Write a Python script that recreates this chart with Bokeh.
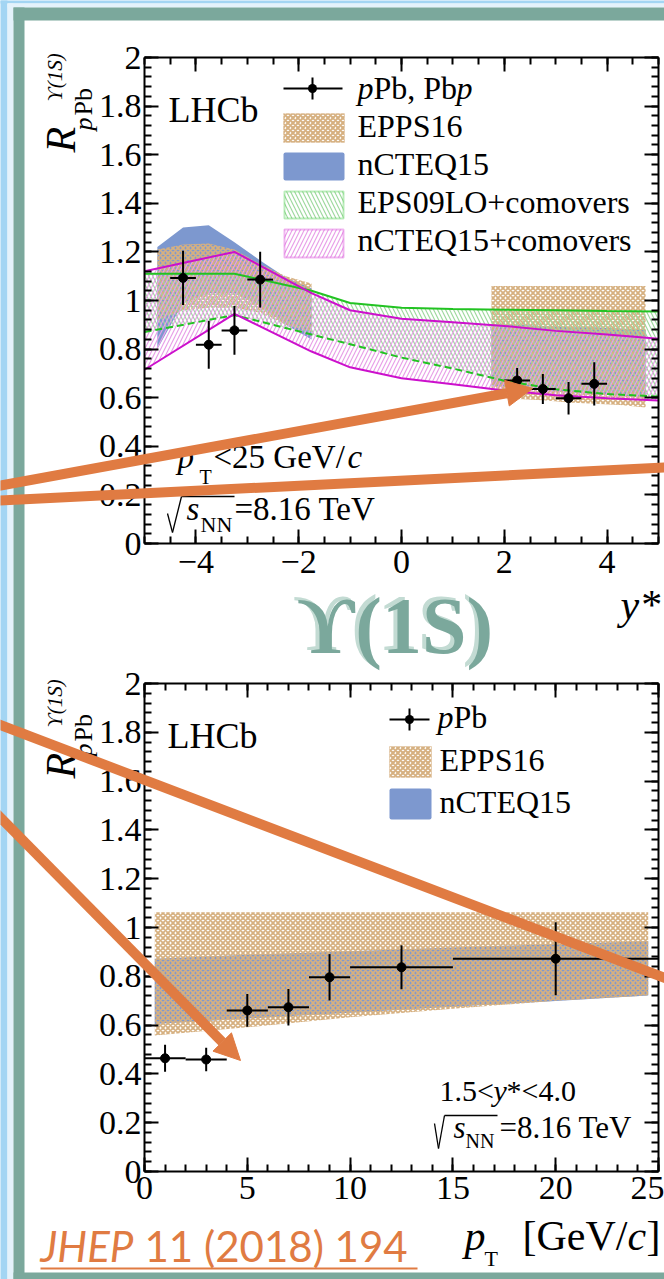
import numpy as np
from bokeh.plotting import figure
from bokeh.layouts import column
from bokeh.models import (Label, BoxAnnotation, Arrow, NormalHead, FixedTicker,
                          CustomJSTickFormatter, LinearAxis, Range1d, GridBox)
from bokeh.embed import file_html
from bokeh.resources import INLINE

# ---------------- rapidity dependence (upper panel) ----------------
ystar = [-4.25, -3.75, -3.25, -2.75, 2.25, 2.75, 3.25, 3.75]
ystar_halfbin = [0.25, 0.25, 0.25, 0.25, 0.25, 0.25, 0.25, 0.25]
rppb_y = [1.093, 0.818, 0.877, 1.086, 0.671, 0.636, 0.598, 0.657]
rppb_y_err = [0.112, 0.099, 0.100, 0.115, 0.051, 0.062, 0.067, 0.089]

bwd_y = [-4.75, -4.25, -3.75, -3.25, -2.75, -2.25, -1.75]
fwd_y = [1.75, 2.25, 2.75, 3.25, 3.75, 4.25, 4.75]
epps_bwd_hi = [1.21, 1.23, 1.235, 1.21, 1.15, 1.10, 1.07]
epps_bwd_lo = [0.92, 0.96, 0.97, 0.97, 0.95, 0.90, 0.87]
ncteq_bwd_hi = [1.22, 1.30, 1.31, 1.24, 1.165, 1.095, 1.05]
ncteq_bwd_lo = [0.80, 0.99, 1.03, 1.03, 0.98, 0.90, 0.84]
epps_fwd_hi = [1.06, 1.06, 1.06, 1.06, 1.06, 1.06, 1.06]
epps_fwd_lo = [0.60, 0.595, 0.59, 0.58, 0.575, 0.57, 0.56]
ncteq_fwd_hi = [0.90, 0.90, 0.895, 0.89, 0.89, 0.885, 0.88]
ncteq_fwd_lo = [0.65, 0.64, 0.63, 0.62, 0.615, 0.61, 0.60]

como_y = [-5.0, -3.25, -1.75, -1.0, 0.0, 1.0, 2.0, 3.0, 4.0, 5.0]
eps09_hi = [1.11, 1.11, 1.04, 0.99, 0.97, 0.965, 0.962, 0.96, 0.957, 0.955]
eps09_lo = [0.87, 0.94, 0.86, 0.82, 0.765, 0.72, 0.67, 0.635, 0.615, 0.605]
ncteq_como_hi = [1.12, 1.20, 1.03, 0.96, 0.925, 0.91, 0.895, 0.875, 0.86, 0.843]
ncteq_como_lo = [0.715, 0.945, 0.79, 0.725, 0.68, 0.655, 0.63, 0.61, 0.598, 0.588]

y_ticks = [0, 0.2, 0.4, 0.6, 0.8, 1.0, 1.2, 1.4, 1.6, 1.8, 2.0]
ystar_ticks = [-4, -2, 0, 2, 4]

# ---------------- pT dependence (lower panel) ----------------
pt = [1, 3, 5, 7, 9, 12.5, 20]
pt_halfbin = [1, 1, 1, 1, 1, 2.5, 5]
rppb_pt = [0.464, 0.459, 0.660, 0.673, 0.796, 0.837, 0.872]
rppb_pt_err = [0.055, 0.048, 0.067, 0.075, 0.095, 0.090, 0.150]

band_pt = [0.5, 5, 10, 15, 20, 24.5]
epps_pt_hi = [1.063, 1.063, 1.063, 1.063, 1.063, 1.063]
epps_pt_lo = [0.557, 0.591, 0.632, 0.667, 0.700, 0.721]
ncteq_pt_hi = [0.872, 0.888, 0.903, 0.918, 0.932, 0.944]
ncteq_pt_lo = [0.605, 0.627, 0.651, 0.675, 0.699, 0.721]

pt_ticks = [0, 5, 10, 15, 20, 25]

# ---------------- style ----------------
SERIF = "Liberation Serif"
SANS = "Lato"
# half of (ascent - descent), in em: distance from the text box centre to the baseline
CENTRE_TO_BASELINE = {SERIF: (0.891 - 0.216) / 2, SANS: (0.987 - 0.213) / 2}
ORANGE = "#e07b42"
TEAL = "#7ba89c"
TEAL_LIGHT = "#c3dbd3"
SKY = "#a3d5f3"
PALE = "#e4f2fb"
TAN = "#d6b080"
BLUE = "#7d98cf"
GREEN = "#22c322"
MAGENTA = "#cc10cc"
GREEN_HATCH = "#9fd99f"
MAGENTA_HATCH = "#e8a0e8"

W = 664
H_TOP = 665
H_BOT = 614
H_PAGE = H_TOP + H_BOT

num_fmt = CustomJSTickFormatter(code="""
const s = Number(tick.toFixed(2)).toString();
return s.replace('-', '\u2212');
""")


def blank_fmt():
    return CustomJSTickFormatter(code="return '';")


def style_axis(ax, ticks, minor, labels, standoff):
    ax.ticker = FixedTicker(ticks=ticks, minor_ticks=minor)
    ax.formatter = num_fmt if labels else blank_fmt()
    ax.axis_line_width = 2
    ax.axis_line_color = "black"
    ax.major_tick_line_width = 2
    ax.minor_tick_line_width = 2
    ax.major_tick_in = 14
    ax.major_tick_out = 0
    ax.minor_tick_in = 7
    ax.minor_tick_out = 0
    ax.major_label_text_font = SERIF
    ax.major_label_text_font_size = "34px"
    ax.major_label_text_color = "black"
    ax.major_label_standoff = standoff if labels else 0


def build(height, canvas_top, frame, xr, yr, xticks, xminor, yticks, yminor, xstand):
    l, r, t, b = frame  # page pixels of the data frame
    p = figure(width=W, height=height, x_range=Range1d(*xr), y_range=Range1d(*yr),
               output_backend="svg", toolbar_location=None,
               min_border_left=l, min_border_right=W - r,
               min_border_top=t - canvas_top,
               min_border_bottom=canvas_top + height - b)
    p.title.visible = False
    p.background_fill_color = "white"
    p.border_fill_color = "white"
    p.outline_line_color = None
    p.xgrid.visible = False
    p.ygrid.visible = False
    p.add_layout(LinearAxis(), "above")
    p.add_layout(LinearAxis(), "right")
    style_axis(p.below[0], xticks, xminor, True, xstand)
    style_axis(p.above[0], xticks, xminor, False, 0)
    style_axis(p.left[0], yticks, yminor, True, 3)
    style_axis(p.right[0], yticks, yminor, False, 0)
    return p


def data_points(p, xs, hw, ys, err):
    xs, hw, ys, err = map(np.asarray, (xs, hw, ys, err))
    p.segment(x0=xs - hw, y0=ys, x1=xs + hw, y1=ys, line_color="black", line_width=2)
    p.segment(x0=xs, y0=ys - err, x1=xs, y1=ys + err, line_color="black", line_width=2)
    p.scatter(xs, ys, marker="circle", size=9, fill_color="black", line_color="black")


EPPS_STYLE = dict(fill_color=None, hatch_pattern="x", hatch_color=TAN,
                  hatch_scale=5, hatch_weight=1.8)

# ================= upper panel: R_pPb vs y* =================
top = build(H_TOP, 0, (144, 660, 57, 543), (-5, 5), (0, 2),
            ystar_ticks, list(np.arange(-5, 5.01, 0.5)),
            y_ticks, list(np.arange(0, 2.001, 0.04)), 7)

for xs, lo, hi in ((bwd_y, ncteq_bwd_lo, ncteq_bwd_hi), (fwd_y, ncteq_fwd_lo, ncteq_fwd_hi)):
    top.varea(x=xs, y1=lo, y2=hi, fill_color=BLUE, fill_alpha=1.0)
for xs, lo, hi in ((bwd_y, epps_bwd_lo, epps_bwd_hi), (fwd_y, epps_fwd_lo, epps_fwd_hi)):
    top.varea(x=xs, y1=lo, y2=hi, **EPPS_STYLE)
top.varea(x=como_y, y1=eps09_lo, y2=eps09_hi, fill_color=None,
          hatch_pattern="\\", hatch_color=GREEN_HATCH, hatch_scale=8, hatch_weight=1.2)
top.varea(x=como_y, y1=ncteq_como_lo, y2=ncteq_como_hi, fill_color=None,
          hatch_pattern="/", hatch_color=MAGENTA_HATCH, hatch_scale=8, hatch_weight=1.2)
top.line(como_y, eps09_hi, line_color=GREEN, line_width=2)
top.line(como_y, eps09_lo, line_color=GREEN, line_width=2, line_dash="7 4")
top.line(como_y, ncteq_como_hi, line_color=MAGENTA, line_width=2)
top.line(como_y, ncteq_como_lo, line_color=MAGENTA, line_width=2)
data_points(top, ystar, ystar_halfbin, rppb_y, rppb_y_err)

# ================= lower panel: R_pPb vs pT =================
bot = build(H_BOT, H_TOP, (142, 658, 683, 1171), (0, 25), (0, 2),
            pt_ticks, list(np.arange(0, 25.01, 1.0)),
            y_ticks, list(np.arange(0, 2.001, 0.04)), 5)

bot.varea(x=band_pt, y1=ncteq_pt_lo, y2=ncteq_pt_hi, fill_color=BLUE, fill_alpha=1.0)
bot.varea(x=band_pt, y1=epps_pt_lo, y2=epps_pt_hi, **EPPS_STYLE)
data_points(bot, pt, pt_halfbin, rppb_pt, rppb_pt_err)

# ================= page layer: frame, legends, captions, titles =================
# a transparent canvas spanning the page, in page pixels (y grows downwards)
ov = figure(width=W, height=H_PAGE, x_range=Range1d(0, W), y_range=Range1d(H_PAGE, 0),
            output_backend="svg", toolbar_location=None,
            x_axis_location=None, y_axis_location=None,
            min_border=0, min_border_left=0, min_border_right=0,
            min_border_top=0, min_border_bottom=0)
ov.title.visible = False
ov.background_fill_color = None
ov.border_fill_color = None
ov.outline_line_color = None
ov.xgrid.visible = False
ov.ygrid.visible = False


def box(x0, x1, y0, y1, level="annotation", **kw):
    opts = dict(fill_alpha=1.0, line_color=None)
    opts.update(kw)
    ov.add_layout(BoxAnnotation(left=x0, right=x1, top=y0, bottom=y1, level=level, **opts))


def text(px, py, s, size, style="normal", color="black", font=SERIF, rotated=False):
    """Place a text whose baseline starts at page pixel (px, py)."""
    shift = CENTRE_TO_BASELINE[font] * size
    if rotated:
        x, y, angle = px - shift, py, np.pi / 2
    else:
        x, y, angle = px, py - shift, 0.0
    ov.add_layout(Label(x=x, y=y, text=s, text_font=font,
                        text_font_size=f"{size}px", text_font_style=style,
                        text_color=color, text_align="left",
                        text_baseline="middle", angle=angle))


def polyline(pts, color="black", width=2):
    for (a, b), (c, d) in zip(pts[:-1], pts[1:]):
        ov.add_layout(Arrow(end=None, x_start=a, y_start=b, x_end=c, y_end=d,
                            line_color=color, line_width=width))


def arrow(x0, y0, x1, y1, head=True):
    end = NormalHead(size=26, fill_color=ORANGE, line_color=ORANGE, line_width=1) if head else None
    ov.add_layout(Arrow(end=end, x_start=x0, y_start=y0, x_end=x1, y_end=y1,
                        line_color=ORANGE, line_width=10, level="overlay"))


def legend_marker(x0, x1, xc, yc, half):
    polyline([(x0, yc), (x1, yc)])
    polyline([(xc, yc - half), (xc, yc + half)])
    box(xc - 4.5, xc + 4.5, yc - 4.5, yc + 4.5, fill_color="black", border_radius=5)


def y_title(dy):
    text(75, 152 + dy, "R", 42, style="italic", rotated=True)
    text(62, 101 + dy, "\u03d2(1S)", 21, style="italic", rotated=True)
    text(92, 130 + dy, "p", 26, style="italic", rotated=True)
    text(92, 115 + dy, "Pb", 26, rotated=True)


# page frame
box(-10, 7, -10, H_PAGE + 10, level="underlay", fill_color=SKY)
box(-10, W + 10, -10, 3, level="underlay", fill_color=SKY)
box(7, 13, 3, H_PAGE + 10, level="underlay", fill_color=PALE)
box(7, W + 10, 3, 7, level="underlay", fill_color=PALE)
box(13, 24, 7, H_PAGE + 10, level="underlay", fill_color=TEAL)
box(13, W + 10, 7, 20, level="underlay", fill_color=TEAL)
box(13, W + 10, 1272, H_PAGE + 10, level="underlay", fill_color=TEAL)

# upper legend
legend_marker(283, 342, 312, 88, 11)
text(357, 98, "p", 32, style="italic")
text(373, 98, "Pb, Pb", 32)
text(456, 98, "p", 32, style="italic")
box(283, 344, 113, 142, fill_color=None, hatch_pattern="x", hatch_color=TAN,
    hatch_scale=5, hatch_weight=2.0, line_color=TAN, line_width=1)
text(357, 136, "EPPS16", 32)
box(283, 344, 152, 180, fill_color=BLUE, border_radius=2)
text(357, 174, "nCTEQ15", 32)
box(284, 343, 191, 218, fill_color=None, hatch_pattern="\\", hatch_color=GREEN_HATCH,
    hatch_scale=8, hatch_weight=1.2, line_color=GREEN, line_width=2)
text(357, 212, "EPS09LO+comovers", 32)
box(284, 343, 229, 257, fill_color=None, hatch_pattern="/", hatch_color=MAGENTA_HATCH,
    hatch_scale=8, hatch_weight=1.2, line_color=MAGENTA, line_width=2)
text(357, 250, "nCTEQ15+comovers", 32)

# upper captions and axis titles
text(168, 122, "LHCb", 36)
text(177, 468, "p", 33, style="italic")
text(199, 483, "T", 20)
text(213, 468, "<25 GeV/", 33)
text(347, 468, "c", 33, style="italic")
polyline([(167, 513), (172, 532), (181, 496), (234, 496)], width=1.3)
text(186, 520, "s", 33, style="italic")
text(200, 531, "NN", 22)
text(234, 520, "=8.16 TeV", 33)
y_title(0)
text(620, 619, "y*", 42, style="italic")

# section heading between the panels
text(293, 649, "\u03d2(1S)", 80, style="bold", color=TEAL_LIGHT)
text(297, 652, "\u03d2(1S)", 80, style="bold", color=TEAL)

# lower legend
legend_marker(389, 429, 409, 719, 11)
text(437, 727, "p", 32, style="italic")
text(453, 727, "Pb", 32)
box(389, 431, 746, 777, fill_color=None, hatch_pattern="x", hatch_color=TAN,
    hatch_scale=5, hatch_weight=2.0, line_color=TAN, line_width=1)
text(439, 770, "EPPS16", 32)
box(389, 431, 788, 819, fill_color=BLUE, border_radius=2)
text(439, 812, "nCTEQ15", 32)

# lower captions and axis titles
text(167, 748, "LHCb", 36)
text(439, 1100, "1.5<", 30)
text(493, 1100, "y", 30, style="italic")
text(506, 1100, "*<4.0", 30)
polyline([(434, 1123), (438, 1148), (444, 1115), (497, 1115)], width=1.3)
text(453, 1137, "s", 31, style="italic")
text(465, 1147, "NN", 20)
text(499, 1137, "=8.16 TeV", 31)
y_title(626)
text(464, 1250, "p", 42, style="italic")
text(484, 1265, "T", 22)
text(522, 1250, "[GeV/", 42)
text(627, 1250, "c", 42, style="italic")
text(646, 1250, "]", 42)

# reference
text(40, 1262, "JHEP", 42, style="italic", color=ORANGE, font=SANS)
text(144, 1262, "11 (2018) 194", 42, color=ORANGE, font=SANS)
polyline([(40, 1268), (417, 1268)], color=ORANGE, width=2)

# orange pointers
arrow(-20, 488.6, 532, 388, head=True)
arrow(-20, 501, 684, 466, head=False)
arrow(-20, 717, 684, 985, head=False)
arrow(-20, 797, 240, 1060, head=True)

# the page layer is wrapped so that its frame is not aligned with the panels' frames
page = GridBox(children=[(top, 0, 0), (bot, 1, 0), (column(ov), 0, 0, 2, 1)], spacing=0)
open("out.html", "w").write(file_html(page, INLINE))
